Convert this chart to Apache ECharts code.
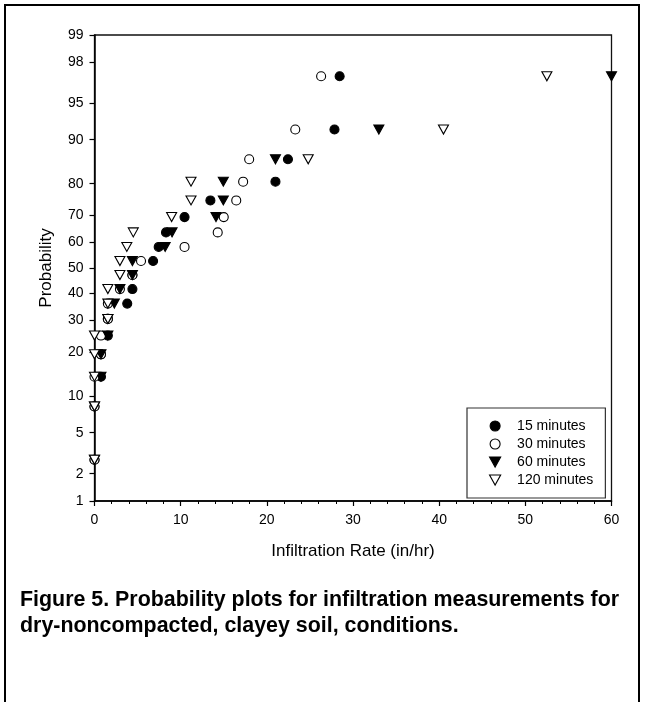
<!DOCTYPE html>
<html>
<head>
<meta charset="utf-8">
<title>Probability plots for infiltration measurements</title>
<script src="https://cdn.jsdelivr.net/npm/echarts@6/dist/echarts.min.js"></script>
<style>
  html, body { margin: 0; padding: 0; background: #fff; }
  #chart { width: 645px; height: 702px; }
</style>
</head>
<body>
<div id="chart"></div>
<script>
// Plotting positions (percent) shared by all four test durations, lowest rank first
const probabilityLevels = [2.78, 8.33, 13.89, 19.44, 25.0, 30.56, 36.11, 41.67, 47.22,
                           52.78, 58.33, 63.89, 69.44, 75.0, 80.56, 86.11, 91.67, 97.22];

// Sorted infiltration rates (in/hr) for each measurement duration
const rate15 = [0, 0, 0.75, 0.75, 1.55, 1.55, 3.8, 4.4, 4.4, 6.8, 7.45, 8.3, 10.45, 13.45, 21.0, 22.45, 27.85, 28.45];
const rate30 = [0, 0, 0, 0.75, 0.75, 1.55, 1.55, 2.95, 4.4, 5.4, 10.45, 14.3, 15.0, 16.45, 17.25, 17.95, 23.3, 26.3];
const rate60 = [0, 0, 0.75, 0.75, 1.55, 1.55, 2.3, 2.95, 4.4, 4.4, 8.2, 9.0, 14.1, 14.95, 14.95, 21.0, 33.0, 60.0];
const rate120 = [0, 0, 0, 0, 0, 1.55, 1.55, 1.55, 2.95, 2.95, 3.75, 4.5, 8.95, 11.2, 11.2, 24.8, 40.5, 52.5];

const seriesNames = ['15 minutes', '30 minutes', '60 minutes', '120 minutes'];
const probTicks = [1, 2, 5, 10, 20, 30, 40, 50, 60, 70, 80, 90, 95, 98, 99];
const xTicks = { min: 0, max: 60, interval: 10 };

// Inverse standard normal CDF (Acklam's approximation) for the probability scale
function probit(p) {
  const a = [-3.969683028665376e+01, 2.209460984245205e+02, -2.759285104469687e+02,
             1.383577518672690e+02, -3.066479806614716e+01, 2.506628277459239e+00];
  const b = [-5.447609879822406e+01, 1.615858368580409e+02, -1.556989798598866e+02,
             6.680131188771972e+01, -1.328068155288572e+01];
  const c = [-7.784894002430293e-03, -3.223964580411365e-01, -2.400758277161838e+00,
             -2.549732539343734e+00, 4.374664141464968e+00, 2.938163982698783e+00];
  const d = [7.784695709041462e-03, 3.224671290700398e-01, 2.445134137142996e+00,
             3.754408661907416e+00];
  const pLow = 0.02425, pHigh = 1 - pLow;
  let q, r;
  if (p < pLow) {
    q = Math.sqrt(-2 * Math.log(p));
    return (((((c[0]*q + c[1])*q + c[2])*q + c[3])*q + c[4])*q + c[5]) /
           ((((d[0]*q + d[1])*q + d[2])*q + d[3])*q + 1);
  } else if (p <= pHigh) {
    q = p - 0.5; r = q * q;
    return (((((a[0]*r + a[1])*r + a[2])*r + a[3])*r + a[4])*r + a[5]) * q /
           (((((b[0]*r + b[1])*r + b[2])*r + b[3])*r + b[4])*r + 1);
  } else {
    q = Math.sqrt(-2 * Math.log(1 - p));
    return -(((((c[0]*q + c[1])*q + c[2])*q + c[3])*q + c[4])*q + c[5]) /
            ((((d[0]*q + d[1])*q + d[2])*q + d[3])*q + 1);
  }
}

const zLevels = probabilityLevels.map(p => probit(p / 100));
const zTicks = probTicks.map(p => probit(p / 100));

function tickLabel(v) {
  let best = 0;
  for (let i = 1; i < zTicks.length; i++) {
    if (Math.abs(zTicks[i] - v) < Math.abs(zTicks[best] - v)) best = i;
  }
  return String(probTicks[best]);
}

const downTri = 'path://M0,0L20,0L10,18Z';
const symbols = [
  { symbol: 'circle', size: 9, fill: '#000' },
  { symbol: 'circle', size: 9, fill: '#fff' },
  { symbol: downTri, size: [10, 9], fill: '#000' },
  { symbol: downTri, size: [10, 9], fill: '#fff' }
];
const rates = [rate15, rate30, rate60, rate120];

const series = rates.map((vals, s) => ({
  name: seriesNames[s],
  type: 'scatter',
  symbol: symbols[s].symbol,
  symbolSize: symbols[s].size,
  itemStyle: { color: symbols[s].fill, borderColor: '#000', borderWidth: 1.1, opacity: 1 },
  emphasis: { disabled: true },
  data: vals.map((x, i) => [x, zLevels[i]])
}));

const chart = echarts.init(document.getElementById('chart'), null, { renderer: 'canvas' });
const font = 'Liberation Sans, Arial, Helvetica, sans-serif';

chart.setOption({
  animation: false,
  backgroundColor: '#fff',
  textStyle: { fontFamily: font, color: '#000' },
  title: {
    text: 'Figure 5. Probability plots for infiltration measurements for\ndry-noncompacted, clayey soil, conditions.',
    left: 15,
    top: 582,
    textStyle: { fontFamily: font, fontSize: 21.4, fontWeight: 'bold', color: '#000', lineHeight: 26 }
  },
  grid: {
    left: 94.5, right: 33.5, top: 35, bottom: 201,
    show: true, borderColor: '#111', borderWidth: 1.3, backgroundColor: 'transparent'
  },
  legend: {
    orient: 'vertical',
    left: 467,
    top: 408,
    padding: [10, 12, 10, 22],
    itemWidth: 34,
    itemHeight: 10,
    itemGap: 2,
    borderColor: '#333',
    borderWidth: 1.2,
    selectedMode: false,
    textStyle: { fontFamily: font, fontSize: 14, color: '#000', lineHeight: 16 },
    data: seriesNames.map((n, s) => ({
      name: n,
      icon: symbols[s].symbol,
      itemStyle: { color: symbols[s].fill, borderColor: '#000', borderWidth: 1.1 }
    }))
  },
  xAxis: {
    type: 'value',
    min: xTicks.min,
    max: xTicks.max,
    interval: xTicks.interval,
    name: 'Infiltration Rate (in/hr)',
    nameLocation: 'middle',
    nameGap: 42,
    nameTextStyle: { fontFamily: font, fontSize: 17, color: '#000' },
    axisLine: { show: true, onZero: false, lineStyle: { color: '#000', width: 1.5 } },
    axisTick: { show: true, inside: false, length: 5, lineStyle: { color: '#000', width: 1.2 } },
    minorTick: { show: true, splitNumber: 5, length: 3, lineStyle: { color: '#000', width: 1 } },
    axisLabel: { margin: 12, fontFamily: font, fontSize: 14, color: '#000' },
    splitLine: { show: false },
    minorSplitLine: { show: false }
  },
  yAxis: {
    type: 'value',
    min: zTicks[0],
    max: zTicks[zTicks.length - 1],
    name: 'Probability',
    nameLocation: 'middle',
    nameGap: 40,
    nameTextStyle: { fontFamily: font, fontSize: 17, color: '#000' },
    axisLine: { show: true, onZero: false, lineStyle: { color: '#000', width: 1.5 } },
    axisTick: { show: true, inside: false, length: 5, customValues: zTicks, lineStyle: { color: '#000', width: 1.2 } },
    axisLabel: { margin: 11, fontFamily: font, fontSize: 14, color: '#000', customValues: zTicks, formatter: tickLabel },
    splitLine: { show: false }
  },
  graphic: [{
    type: 'rect',
    silent: true,
    shape: { x: 5, y: 5, width: 634, height: 720 },
    style: { fill: 'none', stroke: '#000', lineWidth: 2 }
  }],
  series: series
});
</script>
</body>
</html>
